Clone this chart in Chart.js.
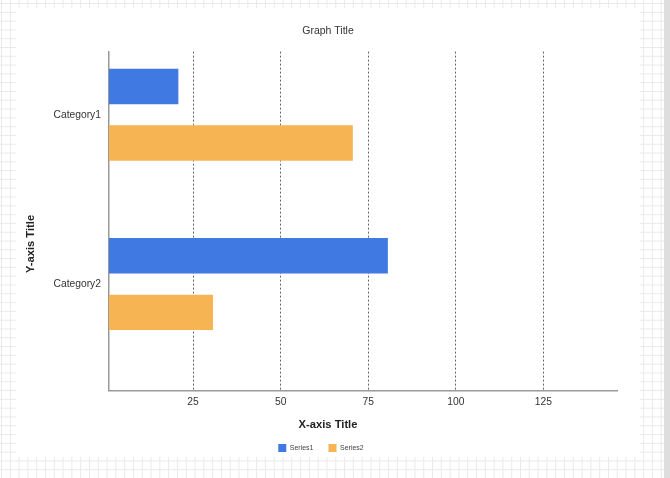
<!DOCTYPE html>
<html>
<head>
<meta charset="utf-8">
<script src="https://cdn.jsdelivr.net/npm/chart.js@4.4.1/dist/chart.umd.min.js"></script>
<style>
  html, body { margin: 0; padding: 0; }
  body {
    width: 670px; height: 478px; position: relative; overflow: hidden;
    background-color: #fff;
    background-image:
      linear-gradient(to right, #e9e9e9 1px, transparent 1px),
      linear-gradient(to bottom, #e9e9e9 1px, transparent 1px);
    background-size: 8.8px 8.8px;
    background-position: 1px 3px;
  }
  #panel { position: absolute; left: 16px; top: 8px; width: 624px; height: 449px; background: #fff; }
  #strip { position: absolute; left: 664px; top: 0; width: 6px; height: 478px; background: #dedede; }
  #wrap { position: absolute; left: -7px; top: 8px; width: 670px; height: 470px; }
</style>
</head>
<body>
<div id="panel"></div>
<div id="strip"></div>
<div id="wrap"><canvas id="chart"></canvas></div>
<script>
const categories = ['Category1', 'Category2'];
const series1 = [20.8, 80.6];
const series2 = [70.6, 30.7];
const xTicks = [25, 50, 75, 100, 125];

const FONT = '"Liberation Sans", Arial, sans-serif';

// titulo do eixo y desenhado a parte (nao fica no meio do eixo)
const yTitlePlugin = {
  id: 'yTitle',
  afterLayout(chart) {
    // legenda um pouco deslocada pra esquerda
    chart.legend.left -= 14;
  },
  afterDraw(chart) {
    const ctx = chart.ctx;
    ctx.save();
    ctx.translate(38, 236);
    ctx.rotate(-Math.PI / 2);
    ctx.font = 'bold 11.2px ' + FONT;
    ctx.fillStyle = '#222';
    ctx.textAlign = 'center';
    ctx.textBaseline = 'middle';
    ctx.fillText('Y-axis Title', 0, 0);
    ctx.restore();
  }
};

const ctx = document.getElementById('chart');
new Chart(ctx, {
  type: 'bar',
  data: {
    datasets: [
      {
        label: 'Series1',
        data: series1.map((v, i) => ({ x: v, y: i })),
        backgroundColor: '#4179E3',
        borderWidth: 0
      },
      {
        label: 'Series2',
        data: series2.map((v, i) => ({ x: v, y: i })),
        backgroundColor: '#F6B552',
        borderWidth: 0
      }
    ]
  },
  options: {
    indexAxis: 'y',
    responsive: true,
    maintainAspectRatio: false,
    animation: false,
    categoryPercentage: 0.669,
    barPercentage: 0.625,
    layout: { padding: { left: 46, right: 46, top: 0, bottom: 16 } },
    plugins: {
      title: {
        display: true,
        text: 'Graph Title',
        color: '#333',
        font: { family: FONT, size: 10.5, weight: 'normal' },
        padding: { top: 17, bottom: 14 }
      },
      subtitle: {
        display: true,
        text: 'X-axis Title',
        position: 'bottom',
        weight: 500,
        color: '#222',
        font: { family: FONT, size: 11.2, weight: 'bold' },
        padding: { top: 5.3, bottom: -3 }
      },
      legend: {
        position: 'bottom',
        labels: {
          boxWidth: 8,
          boxHeight: 8,
          padding: 15,
          color: '#444',
          font: { family: FONT, size: 7 }
        }
      },
      tooltip: { enabled: false }
    },
    scales: {
      x: {
        type: 'linear',
        min: 1,
        max: 146,
        afterBuildTicks: (scale) => { scale.ticks = xTicks.map(v => ({ value: v })); },
        ticks: { color: '#333', padding: 5, font: { family: FONT, size: 10.3 } },
        grid: { color: '#666', drawTicks: false },
        border: { color: '#999', width: 1.5, dash: [2, 2] }
      },
      y: {
        type: 'linear',
        reverse: true,
        offset: false,
        min: -0.373,
        max: 1.631,
        afterBuildTicks: (scale) => { scale.ticks = categories.map((c, i) => ({ value: i })); },
        afterFit: (scale) => { scale.width = 70; },
        ticks: {
          color: '#333',
          padding: 8,
          font: { family: FONT, size: 10.3 },
          callback: (v) => categories[v]
        },
        grid: { display: false, drawTicks: false },
        border: { color: '#999', width: 1.5 }
      }
    }
  },
  plugins: [yTitlePlugin]
});
</script>
</body>
</html>
